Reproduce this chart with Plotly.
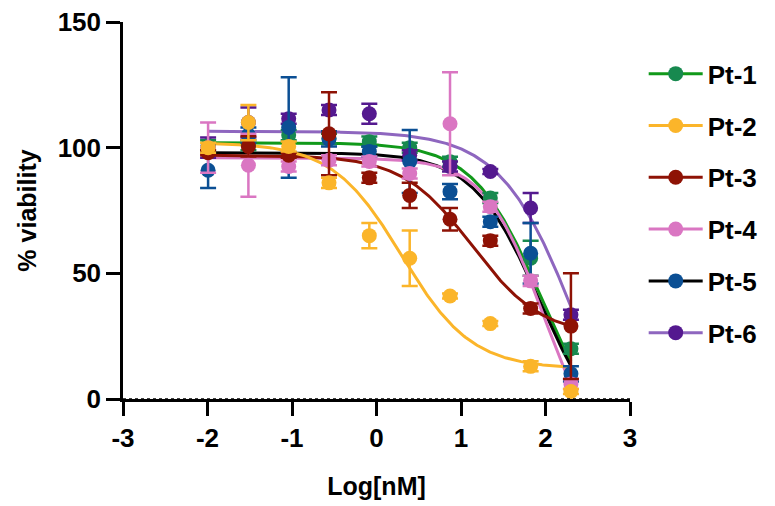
import numpy as np
import plotly.graph_objects as go

# ---------------- data ----------------
log_conc = [-1.993, -1.516, -1.039, -0.562, -0.085, 0.393, 0.870, 1.347, 1.824, 2.301]

series_names = ["Pt-1", "Pt-2", "Pt-3", "Pt-4", "Pt-5", "Pt-6"]

pt1_mean = [101, 101, 105, 103.5, 102.4, 100, 94.4, 80, 56, 20]
pt1_err = [2, 2, 2, 2, 2, 2, 2, 2, 7, 2]

pt2_mean = [100, 110, 100.5, 86, 65, 56, 41, 30, 13, 3]
pt2_err = [2, 7, 2, 2, 5, 11, 1, 1, 2, 1]

pt3_mean = [98, 100.5, 97, 105.5, 88, 81, 71.5, 63, 36, 29]
pt3_err = [1, 4, 1, 16.5, 2, 5, 4.5, 2, 2, 21]

pt4_mean = [100, 93, 92.5, 95, 94.5, 89.7, 109.5, 76.5, 47, 6]
pt4_err = [10, 12.5, 2, 2, 2, 2, 20.5, 2, 2, 2]

pt5_mean = [91, 105, 108, 103.5, 98.5, 94.5, 82.5, 70.5, 58, 10]
pt5_err = [7, 3, 20, 3, 2, 12.5, 3, 2, 12, 3]

pt6_mean = [100, 110, 111.5, 115, 113.5, 97, 92.5, 90.5, 76, 33.5]
pt6_err = [4, 6, 2, 2, 4, 2, 2, 1, 6, 2]

# four-parameter logistic fit parameters: top, bottom, logIC50, hill
fit_top = [102, 102, 97, 96, 98, 106.5]
fit_bottom = [-20, 12, 25, -30, -20, -50]
fit_logic50 = [1.94, 0.30, 1.13, 1.98, 1.93, 2.40]
fit_hill = [1.09, 1.05, 1.05, 1.24, 1.10, 0.95]

means = [pt1_mean, pt2_mean, pt3_mean, pt4_mean, pt5_mean, pt6_mean]
errs = [pt1_err, pt2_err, pt3_err, pt4_err, pt5_err, pt6_err]

x_tickvals = [-3, -2, -1, 0, 1, 2, 3]
x_ticktext = ["-3", "-2", "-1", "0", "1", "2", "3"]
y_tickvals = [0, 50, 100, 150]
y_ticktext = ["0", "50", "100", "150"]

# ---------------- styles ----------------
marker_colors = ["#17894F", "#FBB52A", "#8E1205", "#DA76C2", "#0B4F94", "#54198F"]
line_colors = ["#11991A", "#FBB52A", "#8E1205", "#DA76C2", "#000000", "#8E66BF"]
draw_order = [0, 5, 4, 3, 2, 1]  # bottom -> top

FONT = "Liberation Sans, Arial, Helvetica, sans-serif"

fig = go.Figure()

xs = np.linspace(min(log_conc), max(log_conc), 300)

for i in draw_order:
    ys = fit_bottom[i] + (fit_top[i] - fit_bottom[i]) / (1 + 10 ** ((xs - fit_logic50[i]) * fit_hill[i]))
    fig.add_trace(go.Scatter(
        x=xs, y=ys, mode="lines",
        line=dict(color=line_colors[i], width=3),
        showlegend=False, hoverinfo="skip",
    ))
for i in draw_order:
    fig.add_trace(go.Scatter(
        x=log_conc, y=means[i], mode="markers",
        marker=dict(color=marker_colors[i], size=15, line=dict(width=0)),
        error_y=dict(type="data", array=errs[i], color=marker_colors[i],
                     thickness=2.5, width=8),
        showlegend=False, name=series_names[i],
    ))
# legend entries
for i in range(6):
    fig.add_trace(go.Scatter(
        x=[None], y=[None], mode="lines+markers",
        name=series_names[i],
        line=dict(color=line_colors[i], width=3),
        marker=dict(color=marker_colors[i], size=15),
        legendgroup=series_names[i],
        legendrank=i + 1,
    ))

fig.add_shape(type="line", xref="x", yref="y", x0=-3, x1=3, y0=0, y1=0,
              line=dict(color="black", width=1.5, dash="dot"))

fig.update_layout(
    width=775, height=506,
    margin=dict(l=115, r=153, t=14, b=115, autoexpand=False),
    paper_bgcolor="white", plot_bgcolor="white",
    font=dict(family=FONT, size=26, color="black", weight="bold"),
    legend=dict(
        x=1.027, y=0.925, xanchor="left", yanchor="top",
        xref="paper",
        font=dict(family=FONT, size=26, color="black", weight="bold"),
        tracegroupgap=15, itemwidth=54, traceorder="grouped",
        bgcolor="rgba(0,0,0,0)",
    ),
    xaxis=dict(
        range=[-3, 3], tickvals=x_tickvals, ticktext=x_ticktext,
        ticks="outside", ticklen=14, tickwidth=2.5, tickcolor="black",
        showline=True, linewidth=2.5, linecolor="black",
        showgrid=False, zeroline=False, automargin=False,
        ticklabeloverflow="allow",
        tickfont=dict(family=FONT, size=26, weight="bold"),
        title=dict(text="Log[nM]", font=dict(family=FONT, size=25, weight="bold"), standoff=26),
    ),
    yaxis=dict(
        range=[0, 150], tickvals=y_tickvals, ticktext=y_ticktext,
        ticks="outside", ticklen=14, tickwidth=2.5, tickcolor="black",
        showline=True, linewidth=2.5, linecolor="black",
        showgrid=False, zeroline=False, automargin=False,
        ticklabeloverflow="allow",
        tickfont=dict(family=FONT, size=26, weight="bold"),
        title=dict(text="% viability", font=dict(family=FONT, size=25, weight="bold"), standoff=14),
    ),
)

fig.write_html("out.html")
